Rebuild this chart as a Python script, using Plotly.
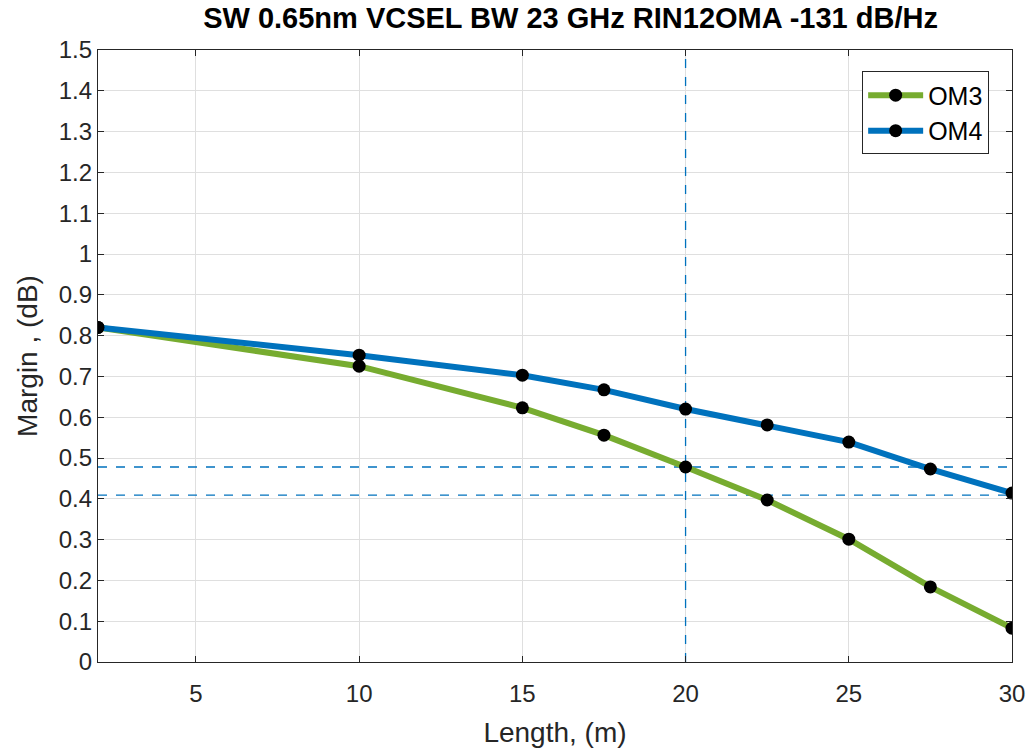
import plotly.graph_objects as go

length = [2, 10, 15, 17.5, 20, 22.5, 25, 27.5, 30]
om3 = [0.82, 0.725, 0.623, 0.556, 0.478, 0.397, 0.301, 0.184, 0.083]
om4 = [0.82, 0.752, 0.703, 0.667, 0.620, 0.581, 0.539, 0.473, 0.414]
ref_len = 20
ref_margins = [0.478, 0.409]

fig = go.Figure()
# reference dashed lines
fig.add_trace(go.Scatter(x=[ref_len, ref_len], y=[0, 1.5], mode="lines",
                         line=dict(color="#0072BD", width=1.3, dash="dash"),
                         showlegend=False, hoverinfo="skip"))
for m in ref_margins:
    fig.add_trace(go.Scatter(x=[2, 30], y=[m, m], mode="lines",
                             line=dict(color="#0072BD", width=1.3, dash="dash"),
                             showlegend=False, hoverinfo="skip"))

fig.add_trace(go.Scatter(x=length, y=om3, mode="lines+markers", name="OM3",
                         line=dict(color="#77AC30", width=6),
                         marker=dict(color="black", size=13)))
fig.add_trace(go.Scatter(x=length, y=om4, mode="lines+markers", name="OM4",
                         line=dict(color="#0072BD", width=6),
                         marker=dict(color="black", size=13)))

font_family = "Liberation Sans, Arial, sans-serif"
fig.update_layout(
    width=1028, height=754,
    margin=dict(l=98, r=16, t=50, b=92),
    paper_bgcolor="white", plot_bgcolor="white",
    font=dict(family=font_family, color="#262626", size=24),
    title=dict(text="<b>SW 0.65nm VCSEL BW 23 GHz RIN12OMA -131 dB/Hz</b>",
               x=0.555, xanchor="center", y=0.99, yanchor="top",
               font=dict(size=29, color="black")),
    legend=dict(x=0.975, y=0.965, xanchor="right", yanchor="top",
                bgcolor="white", bordercolor="#262626", borderwidth=1,
                itemwidth=55, tracegroupgap=4,
                font=dict(size=25, color="black")),
    showlegend=True,
)
fig.update_xaxes(range=[2, 30], tickvals=[5, 10, 15, 20, 25, 30],
                 automargin=False, ticklabelstandoff=10,
                 showgrid=True, gridcolor="#DFDFDF", gridwidth=1,
                 showline=True, linecolor="#262626", linewidth=1.2, mirror="ticks",
                 ticks="inside", ticklen=6, tickcolor="#262626",
                 zeroline=False,
                 title=dict(text="Length, (m)", font=dict(size=28), standoff=16))
fig.update_yaxes(range=[0, 1.5], dtick=0.1, tickformat="~g",
                 automargin=False,
                 showgrid=True, gridcolor="#DFDFDF", gridwidth=1,
                 showline=True, linecolor="#262626", linewidth=1.2, mirror="ticks",
                 ticks="inside", ticklen=6, tickcolor="#262626",
                 zeroline=False,
                 title=dict(text="Margin , (dB)", font=dict(size=28), standoff=12))

fig.write_html("out.html")
